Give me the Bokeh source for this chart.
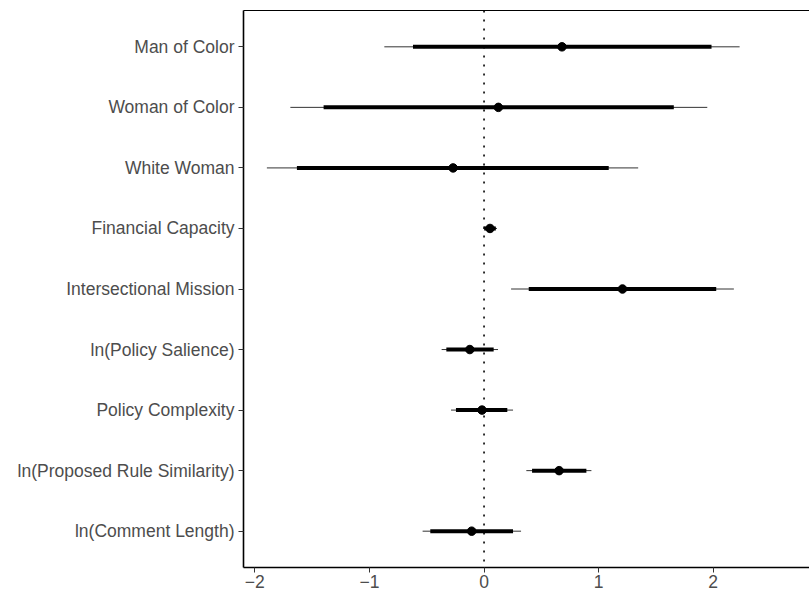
from bokeh.plotting import figure
from bokeh.models import Range1d, FactorRange, FixedTicker, Span, LinearAxis, ColumnDataSource
from bokeh.embed import file_html
from bokeh.resources import INLINE

# Coefficient plot data (top to bottom)
categories = [
    "Man of Color",
    "Woman of Color",
    "White Woman",
    "Financial Capacity",
    "Intersectional Mission",
    "ln(Policy Salience)",
    "Policy Complexity",
    "ln(Proposed Rule Similarity)",
    "ln(Comment Length)",
]
estimate = [0.68, 0.125, -0.27, 0.052, 1.208, -0.124, -0.018, 0.655, -0.108]
lo95 = [-0.87, -1.69, -1.895, -0.009, 0.236, -0.37, -0.288, 0.369, -0.536]
hi95 = [2.23, 1.948, 1.345, 0.113, 2.18, 0.122, 0.253, 0.937, 0.323]
lo90 = [-0.62, -1.40, -1.633, 0.001, 0.39, -0.329, -0.245, 0.419, -0.469]
hi90 = [1.985, 1.656, 1.088, 0.103, 2.026, 0.084, 0.203, 0.893, 0.253]

x_ticks = [-2, -1, 0, 1, 2]
x_tick_labels = ["\u22122", "\u22121", "0", "1", "2"]

src = ColumnDataSource(dict(term=categories, est=estimate, lo95=lo95, hi95=hi95,
                            lo90=lo90, hi90=hi90))

p = figure(width=809, height=595,
           x_range=Range1d(-2.099, 2.84),
           y_range=FactorRange(factors=categories[::-1], range_padding=0.1,
                               range_padding_units="absolute"),
           output_backend="svg", toolbar_location=None,
           min_border_left=243, min_border_right=0, min_border_top=10, min_border_bottom=28)

p.outline_line_color = None
p.xgrid.visible = False
p.ygrid.visible = False
p.background_fill_color = "white"
p.border_fill_color = "white"

# zero reference line
zero = Span(location=0, dimension="height", line_color="black", line_width=1.6,
            line_dash="2 7", level="underlay")
p.add_layout(zero)

p.segment(x0="lo95", y0="term", x1="hi95", y1="term", source=src,
          line_width=1, line_color="#333333")
p.segment(x0="lo90", y0="term", x1="hi90", y1="term", source=src,
          line_width=4, line_color="black")
p.scatter(x="est", y="term", source=src, size=8.5, color="black")

FONT = "Liberation Sans"
for ax in (p.xaxis[0], p.yaxis[0]):
    ax.axis_line_color = "black"
    ax.axis_line_width = 1.6
    ax.major_tick_line_color = "#333333"
    ax.major_tick_line_width = 1
    ax.major_tick_out = 5
    ax.major_tick_in = 0
    ax.minor_tick_line_color = None
    ax.major_label_text_font = FONT
    ax.major_label_text_font_size = "17.5px"
    ax.major_label_text_color = "#4D4D4D"
    ax.major_label_standoff = 4

p.xaxis[0].ticker = FixedTicker(ticks=x_ticks)
p.xaxis[0].major_label_overrides = {t: l for t, l in zip(x_ticks, x_tick_labels)}
p.xaxis[0].major_label_standoff = 2

# thin top line
top = LinearAxis(ticker=FixedTicker(ticks=[]), axis_line_width=1, axis_line_color="black",
                 major_tick_line_color=None, minor_tick_line_color=None,
                 major_label_text_font_size="0px", major_label_standoff=0)
p.add_layout(top, "above")

open("out.html", "w").write(file_html(p, INLINE))
